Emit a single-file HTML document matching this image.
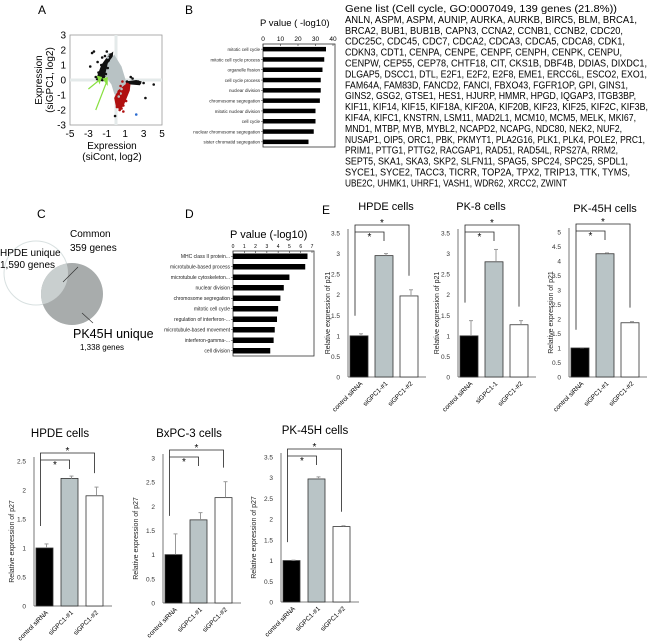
<!DOCTYPE html>
<html><head><meta charset="utf-8"><style>
html,body{margin:0;padding:0;background:#fff;}
svg{display:block;font-family:"Liberation Sans",sans-serif;}
</style></head><body>
<svg id="fig" width="650" height="644" viewBox="0 0 650 644">
<!-- Panel labels -->
<text x="38" y="14" font-size="12">A</text>
<text x="185" y="14" font-size="12">B</text>
<text x="37" y="218" font-size="12">C</text>
<text x="185" y="218" font-size="12">D</text>
<text x="322" y="214" font-size="12">E</text>

<!-- Panel A scatter -->
<g id="panelA">
  <rect x="70" y="35" width="92" height="90" fill="#fff" stroke="#999" stroke-width="0.8"/>
  <text transform="translate(42,80) rotate(-90)" font-size="10" text-anchor="middle">Expression</text>
  <text transform="translate(53,80) rotate(-90)" font-size="10" text-anchor="middle">(siGPC1, log2)</text>
  <text x="112" y="149" font-size="10" text-anchor="middle">Expression</text>
  <text x="112" y="160" font-size="10" text-anchor="middle">(siCont, log2)</text>
</g>

<!-- Panel B -->
<g id="panelB"></g>
<g id="genelist"></g>

<!-- Panel C Venn -->
<g>
  <circle cx="36" cy="273" r="32" fill="#fff" stroke="#d8e0e0" stroke-width="1"/>
  <circle cx="72" cy="294" r="31" fill="#a8acac"/>
  <path d="M 47,243 A 32 32 0 0 1 67,263" fill="none"/>
  <clipPath id="clipL"><circle cx="36" cy="273" r="32"/></clipPath>
  <circle cx="72" cy="294" r="31" fill="#c9cfcf" clip-path="url(#clipL)"/>
  <text x="0" y="256" font-size="10">HPDE unique</text>
  <text x="0" y="268" font-size="10">1,590 genes</text>
  <text x="70" y="237" font-size="10">Common</text>
  <text x="70" y="251" font-size="10">359 genes</text>
  <line x1="78" y1="267" x2="63" y2="282" stroke="#333" stroke-width="0.7"/>
  <line x1="82" y1="313" x2="93" y2="323" stroke="#333" stroke-width="0.7"/>
  <text x="73" y="338" font-size="12.5">PK45H unique</text>
  <text x="80" y="350" font-size="8">1,338 genes</text>
</g>

<g id="panelD"></g>
<g id="panelE"></g>
<g id="panelF"></g>
</svg>
<script>
const NS="http://www.w3.org/2000/svg";
function mk(tag,attrs,parent,txt){const e=document.createElementNS(NS,tag);for(const k in attrs)e.setAttribute(k,attrs[k]);if(txt!==undefined)e.textContent=txt;parent.appendChild(e);return e;}

// ---------- Panel A data ----------
const scatterTicksX=[-5,-3,-1,1,3,5];
const scatterTicksY=[3,2,1,0,-1,-2,-3];
const grayPtsX=[-0.9,-0.6,-0.3,0,0.3,0.6,-0.7,-0.4,-0.1,0.2,0.5,-0.5,-0.2,0.1,0.4,-0.8,0.0,0.3];
const grayPtsY=[1.5,1.1,0.7,0.3,-0.2,-0.6,0.9,0.4,0.0,-0.4,-0.9,1.3,0.9,0.5,0.1,1.7,-0.8,-1.1];
const blackPtsX=[-2.6,-2.4,-2.8,-1.9,-1.6,-1.2,-1.0,-0.8,-2.2,-1.4,-1.8,-0.6,-1.1,-2.0,-1.5,-0.9,1.2,1.6,2.0,2.4,3.0,3.2,4.1,-0.1,1.8,2.6];
const blackPtsY=[1.8,1.9,0.9,0.5,1.0,1.6,1.9,1.3,0.2,0.6,0.1,1.7,0.4,1.2,1.5,0.8,-0.1,0.2,-0.2,-0.1,-0.2,-1.2,-0.3,-2.4,0.1,-0.2];
const redPtsX=[0.3,0.5,0.8,1.0,0.6,0.2,0.9,1.2,0.4,0.7,0.1,0.5,1.1,0.8];
const redPtsY=[-0.9,-1.3,-1.7,-1.0,-1.9,-1.5,-0.5,-0.2,-2.0,-0.1,-1.8,-0.4,-1.4,-2.1];
const bluePtsX=[2.2];
const bluePtsY=[-2.3];

(function(){
 const g=document.getElementById('panelA');
 const x0=70,x1=162,y0=35,y1=125;
 const sx=v=>x0+(v+5)/10*(x1-x0), sy=v=>y0+(3-v)/6*(y1-y0);
 mk('line',{x1:sx(0),x2:sx(0),y1:y0,y2:y1,stroke:'#e4eaea','stroke-width':3},g);
 mk('line',{x1:x0,x2:x1,y1:sy(0),y2:sy(0),stroke:'#e4eaea','stroke-width':3},g);
 // clouds
 const cloud=(pts,fill,name)=>{const p=mk('polygon',{points:pts.map(q=>sx(q[0])+','+sy(q[1])).join(' '),fill:fill},g);};
 cloud([[-2.2,0.0],[-1.6,1.0],[-0.9,1.6],[-0.3,1.9],[-0.4,1.2],[-1.0,0.4],[-1.4,-0.1]],'#111','black-cluster-up');
 cloud([[-1.2,0.3],[-0.9,1.1],[-0.2,1.7],[0.6,0.9],[1.2,-0.3],[0.8,-0.6],[0.2,-1.2],[-0.2,-0.9],[-0.5,-0.3]],'#b8c2c4','gray-cluster');
 cloud([[0.2,-0.7],[1.0,-0.3],[1.6,-0.1],[1.5,-0.7],[0.9,-1.6],[0.5,-2.0],[0.0,-1.8],[-0.2,-1.2]],'#b01010','red-cluster');
 cloud([[1.0,-0.1],[2.2,0.0],[2.8,-0.1],[2.6,-0.35],[1.6,-0.3]],'#111','black-cluster-right');
 const dots=(xs,ys,fill,name)=>{xs.forEach((v,i)=>{const c=mk('circle',{cx:sx(v),cy:sy(ys[i]),r:1.3,fill:fill},g);});};
 dots(grayPtsX,grayPtsY,'#b8c2c4','gray-point');
 dots(redPtsX,redPtsY,'#b01010','red-point');
 dots(blackPtsX,blackPtsY,'#111','black-point');
 dots(bluePtsX,bluePtsY,'#2a6bd0','blue-point');
 // green arrows
 mk('line',{x1:sx(-3.0),y1:sy(-0.6),x2:sx(-1.8),y2:sy(0.0),stroke:'#88e040','stroke-width':1.2},g);
 mk('polygon',{points:`${sx(-1.5)},${sy(0.2)} ${sx(-2.1)},${sy(0.3)} ${sx(-1.8)},${sy(-0.3)}`,fill:'#88e040'},g);
 mk('line',{x1:sx(-2.2),y1:sy(-2.0),x2:sx(-1.0),y2:sy(-0.1)},g).setAttribute('style','stroke:#88e040;stroke-width:1.2');
 mk('polygon',{points:`${sx(-0.9)},${sy(0.2)} ${sx(-1.5)},${sy(0.1)} ${sx(-0.9)},${sy(-0.4)}`,fill:'#88e040'},g);
 scatterTicksX.forEach(v=>{const t=mk('text',{x:sx(v),y:137,'font-size':10,'text-anchor':'middle'},g,String(v));});
 scatterTicksY.forEach(v=>{const t=mk('text',{x:66,y:sy(v)+3.5,'font-size':10,'text-anchor':'end'},g,String(v));});
})();

// ---------- Panel B data ----------
const bCategories=["mitotic cell cycle","mitotic cell cycle process","organelle fission","cell cycle process","nuclear division","chromosome segregation","mitotic nuclear division","cell cycle","nuclear chromosome segregation","sister chromatid segregation"];
const bValues=[36,35,34,33,33,32.5,30,30,29,26];
const bTicks=[0,10,20,30,40];
// ---------- Panel D data ----------
const dCategories=["MHC class II protein...","microtubule-based process","microtubule cytoskeleton...","nuclear division","chromosome segregation","mitotic cell cycle","regulation of interferon-...","microtubule-based movement","interferon-gamma-...","cell division"];
const dValues=[6.6,6.4,5.0,4.5,4.2,4.0,3.9,3.7,3.6,3.3];
const dTicks=[0,1,2,3,4,5,6,7];

function hbar(gid,cats,vals,ticks,o){
 const g=document.getElementById(gid);
 const max=ticks[ticks.length-1];
 const sx=v=>o.x0+v/max*(o.x1-o.x0);
 const t=mk('text',{x:o.tx,y:o.ty,'font-size':o.tfs},g,o.title);
 mk('rect',{x:o.x0,y:o.y0,width:o.x1-o.x0+2,height:o.y1-o.y0,fill:'none',stroke:'#333','stroke-width':0.8},g);
 ticks.forEach(v=>{mk('line',{x1:sx(v),x2:sx(v),y1:o.y0,y2:o.y0+2,stroke:'#333','stroke-width':0.6},g);
  const l=mk('text',{x:sx(v),y:o.y0-3,'font-size':o.kfs,'text-anchor':'middle'},g,String(v));});
 const step=(o.y1-o.y0)/cats.length;
 cats.forEach((c,i)=>{const cy=o.y0+step*(i+0.5);
  const r=mk('rect',{x:o.x0,y:cy-o.bh/2,width:sx(vals[i])-o.x0,height:o.bh,fill:'#000'},g);
  mk('line',{x1:o.x0-2,x2:o.x0,y1:cy,y2:cy,stroke:'#333','stroke-width':0.5},g);
  const l=mk('text',{x:o.x0-3,y:cy+1.8,'font-size':o.lfs,'text-anchor':'end',fill:'#222'},g,c);});
}
hbar('panelB',bCategories,bValues,bTicks,{x0:263,x1:333,y0:44,y1:147,bh:4.5,tx:260,ty:26,tfs:9.5,kfs:6.5,lfs:4.5,title:'P value ( -log10)'});
hbar('panelD',dCategories,dValues,dTicks,{x0:233,x1:312,y0:251,y1:356,bh:5.5,tx:230,ty:238,tfs:11,kfs:5,lfs:5,title:'P value (-log10)'});

// ---------- Gene list ----------
const geneLines=["Gene list (Cell cycle, GO:0007049, 139 genes (21.8%))","ANLN, ASPM, ASPM, AUNIP, AURKA, AURKB, BIRC5, BLM, BRCA1,","BRCA2, BUB1, BUB1B, CAPN3, CCNA2, CCNB1, CCNB2, CDC20,","CDC25C, CDC45, CDC7, CDCA2, CDCA3, CDCA5, CDCA8, CDK1,","CDKN3, CDT1, CENPA, CENPE, CENPF, CENPH, CENPK, CENPU,","CENPW, CEP55, CEP78, CHTF18, CIT, CKS1B, DBF4B, DDIAS, DIXDC1,","DLGAP5, DSCC1, DTL, E2F1, E2F2, E2F8, EME1, ERCC6L, ESCO2, EXO1,","FAM64A, FAM83D, FANCD2, FANCI, FBXO43, FGFR1OP, GPI, GINS1,","GINS2, GSG2, GTSE1, HES1, HJURP, HMMR, HPGD, IQGAP3, ITGB3BP,","KIF11, KIF14, KIF15, KIF18A, KIF20A, KIF20B, KIF23, KIF25, KIF2C, KIF3B,","KIF4A, KIFC1, KNSTRN, LSM11, MAD2L1, MCM10, MCM5, MELK, MKI67,","MND1, MTBP, MYB, MYBL2, NCAPD2, NCAPG, NDC80, NEK2, NUF2,","NUSAP1, OIP5, ORC1, PBK, PKMYT1, PLA2G16, PLK1, PLK4, POLE2, PRC1,","PRIM1, PTTG1, PTTG2, RACGAP1, RAD51, RAD54L, RPS27A, RRM2,","SEPT5, SKA1, SKA3, SKP2, SLFN11, SPAG5, SPC24, SPC25, SPDL1,","SYCE1, SYCE2, TACC3, TICRR, TOP2A, TPX2, TRIP13, TTK, TYMS,","UBE2C, UHMK1, UHRF1, VASH1, WDR62, XRCC2, ZWINT"];
const geneEnds=[617,637,623,625,622,647,647,628,636,648,636,622,645,618,628,630,567];
(function(){const g=document.getElementById('genelist');
 geneLines.forEach((s,i)=>{const t=mk('text',{x:345,y:12+i*10.9,'font-size':10,textLength:geneEnds[i]-345,lengthAdjust:'spacingAndGlyphs'},g,s);
 });})();

// ---------- Bar charts (E and bottom) ----------
const p21Titles=["HPDE cells","PK-8 cells","PK-45H cells"];
const p21Values=[[1.0,2.95,1.97],[1.0,2.8,1.27],[1.0,4.25,1.87]];
const p21Errors=[[0.05,0.05,0.15],[0.37,0.3,0.1],[0.01,0.03,0.04]];
const p21Ticks=[[0,0.5,1,1.5,2,2.5,3,3.5],[0,0.5,1,1.5,2,2.5,3,3.5],[0,0.5,1,1.5,2,2.5,3,3.5,4,4.5,5]];
const p21Labels=[["control siRNA","siGPC1-#1","siGPC1-#2"],["control siRNA","siGPC1-1","siGPC1-#2"],["control siRNA","siGPC1-#1","siGPC1-#2"]];
const p27Titles=["HPDE cells","BxPC-3 cells","PK-45H cells"];
const p27Values=[[1.0,2.2,1.9],[1.0,1.72,2.18],[1.0,2.97,1.82]];
const p27Errors=[[0.07,0.04,0.15],[0.43,0.15,0.33],[0.01,0.05,0.02]];
const p27Ticks=[[0,0.5,1,1.5,2,2.5],[0,0.5,1,1.5,2,2.5,3],[0,0.5,1,1.5,2,2.5,3,3.5]];
const p27Labels=[["control siRNA","siGPC1-#1","siGPC1-#2"],["control siRNA","siGPC1-#1","siGPC1-#2"],["control siRNA","siGPC1-#1","siGPC1-#2"]];
const barFills=["#000","#b9c4c6","#fff"];

function barChart(g,title,vals,errs,ticks,labels,L){
 const max=ticks[ticks.length-1];
 const sy=v=>L.yb-v/max*(L.yb-L.yt);
 const tt=mk('text',{x:L.tcx,y:L.ty,'font-size':L.tfs,'text-anchor':'middle'},g,title);
 const yl=mk('text',{transform:`translate(${L.ylx},${(L.yb+L.yt)/2+8}) rotate(-90)`,'font-size':7,'text-anchor':'middle',fill:'#222'},g,L.ylabel);
 mk('line',{x1:L.ax,x2:L.ax,y1:L.yt-4,y2:L.yb,stroke:'#555','stroke-width':0.8},g);
 mk('line',{x1:L.ax,x2:L.ax+L.bw*3+L.gap*3+3,y1:L.yb,y2:L.yb,stroke:'#555','stroke-width':0.8},g);
 ticks.forEach(v=>{const t=mk('text',{x:L.ax-8,y:sy(v)+2.5,'font-size':6.5,'text-anchor':'end',fill:'#333'},g,String(v));});
 const cx=[];
 vals.forEach((v,i)=>{const x=L.ax+2+i*(L.bw+L.gap);cx.push(x+L.bw/2);
  const r=mk('rect',{x:x,y:sy(v),width:L.bw,height:L.yb-sy(v),fill:barFills[i],stroke:'#333','stroke-width':0.8},g);
  
  const top=sy(v+errs[i]);
  mk('line',{x1:x+L.bw/2+2,x2:x+L.bw/2+2,y1:sy(v),y2:top,stroke:'#999','stroke-width':1},g);
  mk('line',{x1:x+L.bw/2,x2:x+L.bw/2+4,y1:top,y2:top,stroke:'#999','stroke-width':1},g);
  const lb=mk('text',{transform:`translate(${x+L.bw/2+4},${L.yb+7}) rotate(-45)`,'font-size':6.5,'text-anchor':'end'},g,labels[i]);
  });
 // brackets
 const bx=cx[0]-4;
 const oy=L.yt-8, iy=L.yt-1;
 mk('polyline',{points:`${bx},${sy(vals[0]+errs[0])-18} ${bx},${oy} ${cx[2]},${oy} ${cx[2]},${sy(vals[2]+errs[2])-14}`,fill:'none',stroke:'#222','stroke-width':0.8},g);
 mk('polyline',{points:`${bx},${iy} ${cx[1]},${iy} ${cx[1]},${iy+9}`,fill:'none',stroke:'#222','stroke-width':0.8},g);
 const s1=mk('text',{x:(bx+cx[2])/2,y:oy+1,'font-size':10,'text-anchor':'middle'},g,'*');
 const s2=mk('text',{x:(bx+cx[1])/2,y:iy+8,'font-size':10,'text-anchor':'middle'},g,'*');
}
(function(){
 const gE=document.getElementById('panelE');
 const LE=[
  {ax:348,yt:233,yb:377,bw:18,gap:7,tcx:386,ty:210,tfs:11,ylx:330,ylabel:'Relative expression of p21'},
  {ax:458,yt:233,yb:377,bw:18,gap:7,tcx:481,ty:210,tfs:11,ylx:439,ylabel:'Relative expression of p21'},
  {ax:569,yt:232,yb:377,bw:18,gap:7,tcx:605,ty:212,tfs:11,ylx:553,ylabel:'Relative expression of p21'}];
 LE.forEach((L,i)=>{const g=mk('g',{},gE);
  barChart(g,p21Titles[i],p21Values[i],p21Errors[i],p21Ticks[i],p21Labels[i],L);});
 const gF=document.getElementById('panelF');
 const LF=[
  {ax:34,yt:461,yb:606,bw:17,gap:8,tcx:60,ty:437,tfs:11.5,ylx:14,ylabel:'Relative expression of p27'},
  {ax:163,yt:458,yb:603,bw:17,gap:8,tcx:189,ty:437,tfs:11.5,ylx:138,ylabel:'Relative expression of p27'},
  {ax:281,yt:457,yb:602,bw:17,gap:8,tcx:315,ty:434,tfs:11.5,ylx:256,ylabel:'Relative expression of p27'}];
 LF.forEach((L,i)=>{const g=mk('g',{},gF);
  barChart(g,p27Titles[i],p27Values[i],p27Errors[i],p27Ticks[i],p27Labels[i],L);});
})();
</script>
</body></html>
